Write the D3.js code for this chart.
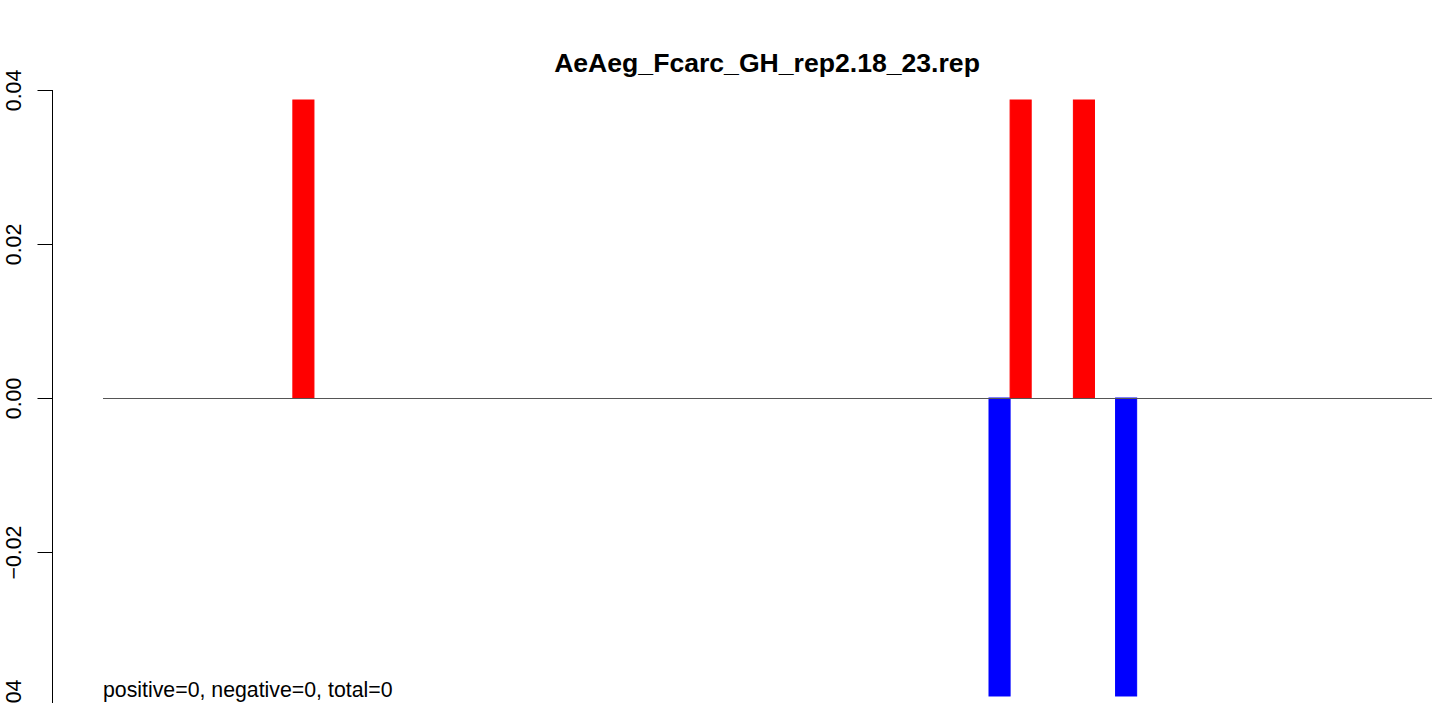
<!DOCTYPE html>
<html>
<head>
<meta charset="utf-8">
<script src="https://cdn.jsdelivr.net/npm/d3@7"></script>
<style>
  html, body { margin: 0; padding: 0; background: #fff; overflow: hidden; }
  svg { display: block; font-family: "Liberation Sans", Arial, sans-serif; }
</style>
</head>
<body>
<script>
// ---- data ----
const title = "AeAeg_Fcarc_GH_rep2.18_23.rep";
const binCount = 63;
const barIndex = [9, 42, 43, 46, 48];
const barValue = [0.0387, -0.0387, 0.0387, 0.0387, -0.0387];
const yTicks = [-0.04, -0.02, 0, 0.02, 0.04];
const yTickLabels = ["\u22120.04", "\u22120.02", "0.00", "0.02", "0.04"];
const footer = "positive=0, negative=0, total=0";

const W = 1439, H = 703;
const svg = d3.select("body").append("svg").attr("width", W).attr("height", H);

const x = d3.scaleLinear().domain([0, binCount]).range([103, 1432]);
const y = d3.scaleLinear().domain([-0.04, 0.04]).range([706, 90]);

const bars = barIndex.map((b, i) => ({ b, v: barValue[i] }));

svg.append("g").selectAll("rect").data(bars).join("rect")
  .attr("x", d => x(d.b))
  .attr("width", d => x(d.b + 1) - x(d.b))
  .attr("y", d => d.v >= 0 ? y(d.v) : y(0))
  .attr("height", d => Math.abs(y(d.v) - y(0)))
  .attr("fill", d => d.v >= 0 ? "#ff0000" : "#0000ff")
  .attr("stroke", d => d.v >= 0 ? "#ff0000" : "#0000ff")
  .attr("stroke-width", 1);

// zero line
svg.append("line")
  .attr("x1", x(0)).attr("x2", x(binCount))
  .attr("y1", y(0) + 0.5).attr("y2", y(0) + 0.5)
  .attr("stroke", "#555").attr("stroke-width", 1);

// y axis
const axis = d3.axisLeft(y).tickValues(yTicks)
  .tickFormat((d, i) => yTickLabels[i]).tickSize(15).tickSizeOuter(0);
const ag = svg.append("g").attr("transform", "translate(52.5,0)").call(axis);
ag.select(".domain").attr("stroke", "#000").attr("d", `M0,${y(-0.04)}V${y(0.04)}`);
ag.selectAll(".tick line").attr("stroke", "#000");
ag.selectAll(".tick text")
  .attr("fill", "#000")
  .attr("font-size", 21.3)
  .attr("font-family", "'Liberation Sans', Arial, sans-serif")
  .attr("text-anchor", "middle")
  .attr("dy", null)
  .attr("x", null)
  .attr("transform", "translate(-38.5,0) rotate(-90)")
  .attr("dominant-baseline", "central");

// title
svg.append("text")
  .attr("x", 767).attr("y", 72)
  .attr("text-anchor", "middle")
  .attr("font-size", 26.6).attr("font-weight", "bold")
  .text(title);

// footer
svg.append("text")
  .attr("x", 103).attr("y", 697)
  .attr("font-size", 21.3)
  .text(footer);
</script>
</body>
</html>
